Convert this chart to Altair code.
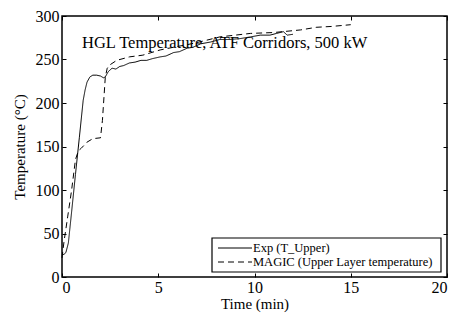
import altair as alt
import pandas as pd

exp_t = [0.0, 0.1, 0.2, 0.33, 0.5, 0.7, 0.9, 1.1, 1.2, 1.3, 1.45, 1.6, 1.8, 2.0, 2.15, 2.25,
         2.4, 2.6, 2.8, 3.0, 3.2, 3.5, 3.8, 4.1, 4.4, 4.7, 5.1, 5.4, 5.8, 6.1, 6.5, 6.8,
         7.2, 7.7, 8.2, 8.7, 9.25, 9.8, 10.3, 10.8, 11.15, 11.5, 11.7, 12.0]
exp_T = [26, 26, 28, 39, 75, 118, 160, 203, 215, 224, 230, 232, 232, 231, 229, 230,
         236, 240, 239, 242, 243, 246, 247, 249, 249, 251, 253, 254, 258, 259, 263, 264,
         268, 270, 273, 273, 274, 276, 278, 278, 280, 282, 278, 279]

magic_t = [0.0, 0.1, 0.3, 0.5, 0.7, 0.85, 1.0, 1.3, 1.6, 2.0, 2.1, 2.25, 2.35, 2.5, 2.84,
           3.5, 4.2, 5.1, 6.0, 6.5, 7.3, 8.2, 9.0, 9.8, 11.0, 12.4, 13.2, 14.0, 15.0]
magic_T = [22, 40, 70, 100, 135, 145, 148, 155, 159, 160, 180, 230, 240, 244, 249,
           253, 255, 261, 265, 267, 271, 276, 278, 280, 281, 284, 287, 288, 290]

series_names = ["Exp (T_Upper)", "MAGIC (Upper Layer temperature)"]
title_text = "HGL Temperature, ATF Corridors, 500 kW"
x_ticks = [0, 5, 10, 15, 20]
y_ticks = [0, 50, 100, 150, 200, 250, 300]

df = pd.concat([
    pd.DataFrame({"t": exp_t, "T": exp_T, "series": series_names[0], "o": range(len(exp_t))}),
    pd.DataFrame({"t": magic_t, "T": magic_T, "series": series_names[1], "o": range(len(magic_t))}),
])

FONT = "Liberation Serif"
DASH = [6, 4]
xs = alt.Scale(domain=[0, 20], nice=False)
ys = alt.Scale(domain=[0, 300], nice=False)

ax_common = dict(offset=-4, tickSize=4, domain=False, grid=False, tickColor="black", tickWidth=1,
                 labelFont=FONT, labelFontSize=16, labelColor="black",
                 titleFont=FONT, titleFontSize=15, titleFontWeight="normal", titleColor="black")

lines = alt.Chart(df).mark_line(color="black", strokeWidth=1).encode(
    x=alt.X("t:Q", scale=xs, title="Time (min)",
            axis=alt.Axis(values=x_ticks, labelPadding=2, titlePadding=1, format="d", **ax_common)),
    y=alt.Y("T:Q", scale=ys, title="Temperature (°C)",
            axis=alt.Axis(values=y_ticks, labelPadding=3, titlePadding=8, format="d", **ax_common)),
    strokeDash=alt.StrokeDash("series:N",
                              scale=alt.Scale(domain=series_names, range=[[1, 0], DASH]),
                              legend=None),
    order="o:Q",
    detail="series:N",
)

mirror = alt.Chart(df).mark_point(opacity=0).encode(
    x=alt.X("t:Q", scale=xs, title=None,
            axis=alt.Axis(orient="top", values=x_ticks, offset=-4, tickSize=4, domain=False,
                          grid=False, labels=False, tickColor="black")),
    y=alt.Y("T:Q", scale=ys, title=None,
            axis=alt.Axis(orient="right", values=y_ticks, offset=-4, tickSize=4, domain=False,
                          grid=False, labels=False, tickColor="black")),
)

label = alt.Chart(pd.DataFrame({"s": [title_text]})).mark_text(
    font=FONT, fontSize=16.5, align="left", baseline="alphabetic", color="black"
).encode(x=alt.value(20), y=alt.value(32), text="s:N")

# legend box (drawn manually to match the compact MATLAB-style legend)
leg_box = alt.Chart(pd.DataFrame({"a": [0]})).mark_rect(
    fill="white", stroke="black", strokeWidth=1.2
).encode(x=alt.value(150), x2=alt.value(379), y=alt.value(222), y2=alt.value(256))

leg_df = pd.DataFrame({"series": series_names, "row": [0, 1]})
leg_line_solid = alt.Chart(leg_df.iloc[[0]]).mark_rule(color="black", strokeWidth=1).encode(
    x=alt.value(156), x2=alt.value(190), y=alt.value(232))
leg_line_dash = alt.Chart(leg_df.iloc[[1]]).mark_rule(color="black", strokeWidth=1,
                                                        strokeDash=DASH).encode(
    x=alt.value(156), x2=alt.value(190), y=alt.value(246))
leg_text1 = alt.Chart(leg_df.iloc[[0]]).mark_text(
    font=FONT, fontSize=12.5, align="left", baseline="middle", color="black"
).encode(x=alt.value(191), y=alt.value(232), text="series:N")
leg_text2 = alt.Chart(leg_df.iloc[[1]]).mark_text(
    font=FONT, fontSize=12.5, align="left", baseline="middle", color="black"
).encode(x=alt.value(191), y=alt.value(246), text="series:N")

chart = alt.layer(lines, mirror, label, leg_box, leg_line_solid, leg_line_dash,
                  leg_text1, leg_text2).resolve_axis(
    x="independent", y="independent"
).properties(
    width=385, height=261, autosize="none", background="white",
    padding={"left": 62, "top": 16, "right": 9, "bottom": 44},
).configure_view(stroke="black", strokeWidth=1.5)

chart.save("out.html", embed_options={"renderer": "svg", "actions": False})
